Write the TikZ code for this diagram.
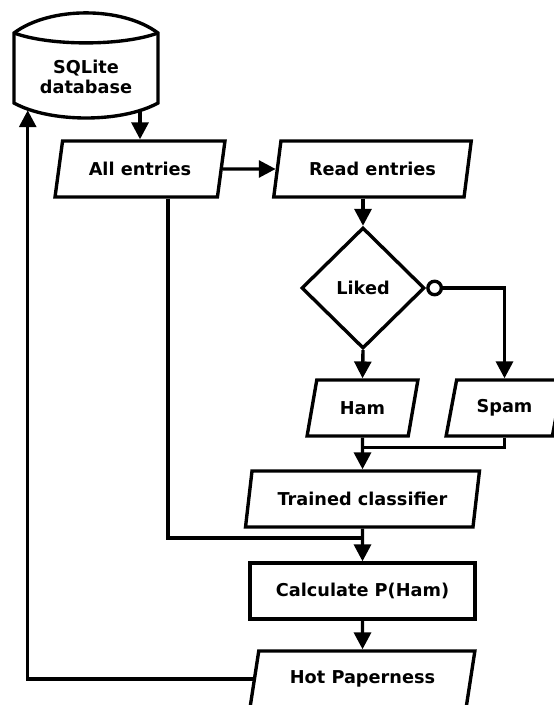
\documentclass[tikz,border=0pt]{standalone}
\usepackage{fontspec}
\setsansfont{DejaVu Sans}
\usetikzlibrary{arrows.meta,positioning,calc,shapes.geometric}
\tikzset{
  >={Triangle[length=12pt,width=12pt]},
  flow/.style={->, draw=black, line width=2.4pt},
  link/.style={draw=black, line width=2.4pt},
  branch/.style={{Circle[open,length=12pt,width=12pt]}->, draw=black, line width=2.4pt},
  label/.style={font=\sffamily\bfseries\fontsize{12.6}{14.5}\selectfont, text=black, align=center},
  data/.style={label, trapezium, trapezium left angle=70, trapezium right angle=110,
               trapezium stretches=true, draw, line width=2.4pt, inner sep=0pt, minimum height=1.4cm},
  process/.style={label, rectangle, draw, line width=2.4pt, inner sep=0pt, minimum height=1.4cm},
  decision/.style={label, diamond, draw, line width=2.4pt, inner sep=0pt},
  store/.style={label, inner sep=0pt, minimum width=3.6cm, minimum height=1.65cm},
}

\begin{document}
\begin{tikzpicture}[x=1cm,y=1cm]
\useasboundingbox (0,0) rectangle (13.85,17.625);

% Storage ----------------------------------------------------------------------
\node[store] (db) at (2.15,15.70) {SQLite\\database};
\draw[link] ($(db.center)+(-1.8,-0.65)$) -- ($(db.center)+(-1.8,1.1)$)
  .. controls ($(db.center)+(-0.9,1.77)$) and ($(db.center)+(0.9,1.77)$) .. ($(db.center)+(1.8,1.1)$)
  -- ($(db.center)+(1.8,-0.65)$)
  .. controls ($(db.center)+(0.9,-1.15)$) and ($(db.center)+(-0.9,-1.15)$) .. cycle;
\draw[link] ($(db.center)+(-1.8,1.1)$)
  .. controls ($(db.center)+(-0.9,0.77)$) and ($(db.center)+(0.9,0.77)$) .. ($(db.center)+(1.8,1.1)$);

% Entries ----------------------------------------------------------------------
\node[data, minimum width=4.25cm] (all) at (3.5,13.4) {All entries};
\node[data, minimum width=4.975cm] (read) at (9.3125,13.4) {Read entries};

\draw[flow] (db.south -| all.north) -- (all.north);
\draw[flow] (all.east) -- (read.west);

% Decision ---------------------------------------------------------------------
\node[decision, minimum width=3.075cm, minimum height=3.025cm] (liked) at (9.075,10.425) {Liked};
\draw[flow] (read.south -| liked.north) -- (liked.north);

\node[data, minimum width=2.775cm] (ham) at (9.0625,7.425) {Ham};
\node[data, minimum width=2.925cm] (spam) at (12.6125,7.425) {Spam};

\draw[flow] (liked.south) -- (ham.north);
\draw[branch] (liked.east) -| (spam.north);

% Training ---------------------------------------------------------------------
\node[data, minimum width=5.85cm] (train) at (9.0625,5.15) {Trained classifier};
\coordinate (merge) at ($(ham.south)!0.31!(train.north)$);

\draw[flow] (ham.south) -- (train.north);
\draw[link] (spam.south) |- (merge);

% Scoring ----------------------------------------------------------------------
\node[process, minimum width=5.625cm] (calc) at (9.0625,2.85) {Calculate P(Ham)};
\coordinate (join) at ($(train.south)!0.28!(calc.north)$);

\draw[flow] (train.south) -- (calc.north);
\draw[link] ([xshift=0.7cm]all.south) |- (join);

\node[data, minimum width=5.625cm] (hot) at (9.0625,0.65) {Hot Paperness};
\draw[flow] (calc.south) -- (hot.north);

% Feedback to the database
\draw[flow] (hot.west) -| ([xshift=0.35cm]db.south west);

\end{tikzpicture}
\end{document}
